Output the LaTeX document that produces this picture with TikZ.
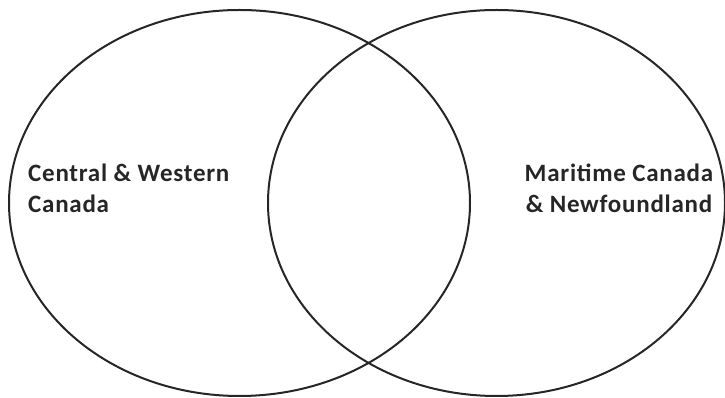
\documentclass[tikz,border=0pt]{standalone}
\usepackage{fontspec}
\setmainfont{Carlito}[LetterSpace=3]
\begin{document}
\begin{tikzpicture}[x=1pt,y=1pt,
  ring/.style={draw=black!85, line width=2pt},
  lbl/.style={font=\bfseries\fontsize{25}{31}\selectfont, text=black!85, inner sep=0pt}]
\useasboundingbox (0,0) rectangle (725,398);
\path[ring] (239.5,195) ellipse [x radius=230.5, y radius=193];
\path[ring] (496.5,195) ellipse [x radius=228.5, y radius=193];
\node[lbl, anchor=base west, align=left] (L) at (28,185) {Central \& Western\\Canada};
\node[lbl, anchor=base, align=center] (R) at (619,185) {Maritime Canada\\\& Newfoundland};
\end{tikzpicture}
\end{document}
